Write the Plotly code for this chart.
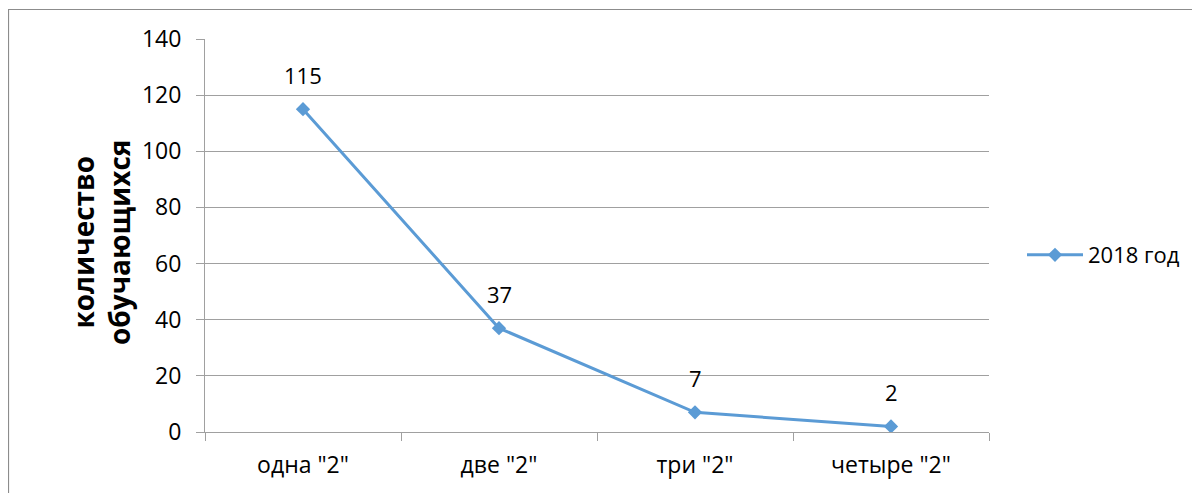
import plotly.graph_objects as go

categories = ['одна "2"', 'две "2"', 'три "2"', 'четыре "2"']
values = [115, 37, 7, 2]
series_name = "2018 год"
y_ticks = [0, 20, 40, 60, 80, 100, 120, 140]

OFF = 8  # page body margin
W, H = 1200 - OFF, 493 - OFF
L, T = 205 - OFF, 39 - OFF
pw, ph = 784, 393
R, B = W - L - pw, H - T - ph

def px(xabs):
    return (xabs - 205) / pw

def py(yabs):
    return (432 - yabs) / ph

FONT = "Open Sans"
BLUE = "#5B9BD5"
GRID = "#A0A0A0"
FS = 23

fig = go.Figure()
fig.add_trace(go.Scatter(
    x=categories, y=values, mode="lines+markers", name=series_name,
    line=dict(color=BLUE, width=3),
    marker=dict(symbol="diamond", size=11, color=BLUE),
))

for c, v in zip(categories, values):
    fig.add_annotation(x=c, y=v, text=str(v), showarrow=False, yshift=34,
                       font=dict(family=FONT, size=22, color="#000000"))

# y-axis title
fig.add_annotation(xref="paper", yref="paper", x=px(101), y=py(243),
                   text="<b>количество<br>обучающихся</b>", textangle=-90, showarrow=False,
                   font=dict(family=FONT, size=28, color="#000000"),
                   xanchor="center", yanchor="middle")

# outer border
fig.add_shape(type="rect", xref="paper", yref="paper",
              x0=px(8.5), x1=px(1199.5),
              y0=py(520), y1=py(9.5),
              line=dict(color="#8C8C8C", width=1.2), fillcolor="rgba(0,0,0,0)", layer="below")

fig.update_layout(
    width=W, height=H,
    margin=dict(l=L, r=R, t=T, b=B, pad=0),
    paper_bgcolor="white", plot_bgcolor="white",
    font=dict(family=FONT, size=FS, color="#000000"),
    showlegend=True,
    legend=dict(x=px(1022), y=py(255), xanchor="left", yanchor="middle",
                font=dict(family=FONT, size=22, color="#000000"),
                itemwidth=56, bgcolor="rgba(0,0,0,0)"),
    xaxis=dict(type="category", range=[-0.5, 3.5], tickson="boundaries",
               ticks="outside", ticklen=8, tickcolor=GRID, tickwidth=1,
               showline=True, linecolor=GRID, linewidth=1, showgrid=False,
               tickfont=dict(family=FONT, size=FS), ticklabelstandoff=12, fixedrange=True),
    yaxis=dict(range=[0, 140], tickvals=y_ticks, ticks="outside", ticklen=8,
               tickcolor=GRID, tickwidth=1, showline=True, linecolor=GRID, linewidth=1,
               showgrid=True, gridcolor=GRID, gridwidth=1, zeroline=False,
               tickfont=dict(family=FONT, size=FS), ticklabelstandoff=10),
)

fig.write_html("out.html")
